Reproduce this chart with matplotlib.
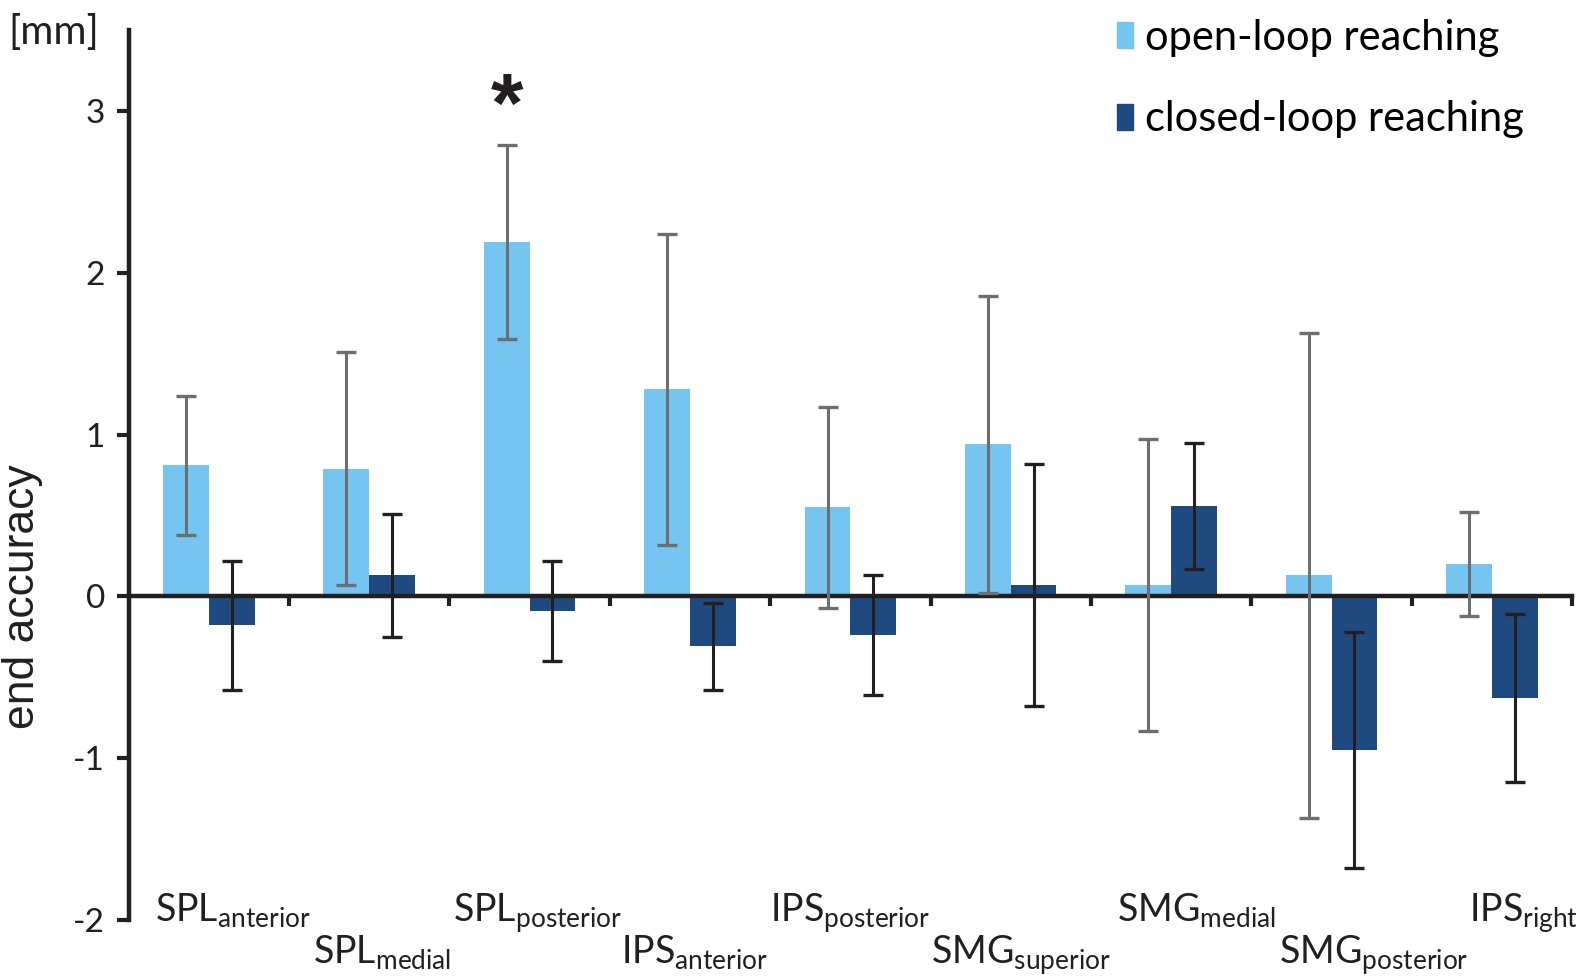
import matplotlib
matplotlib.use("Agg")
import matplotlib.pyplot as plt
import numpy as np
from matplotlib.patches import Patch

plt.rcParams["font.family"] = ["Lato", "DejaVu Sans"]
plt.rcParams["mathtext.fontset"] = "custom"
plt.rcParams["mathtext.rm"] = "Lato"
plt.rcParams["axes.unicode_minus"] = False

LIGHT = "#75C5F0"
DARK = "#1F4A7F"
GREY_ERR = "#6D6E71"
BLACK = "#231F20"

regions = ["SPL", "SPL", "SPL", "IPS", "IPS", "SMG", "SMG", "SMG", "IPS"]
subs = ["anterior", "medial", "posterior", "anterior", "posterior",
        "superior", "medial", "posterior", "right"]

open_loop = [0.81, 0.79, 2.19, 1.28, 0.55, 0.94, 0.07, 0.13, 0.20]
open_err = [0.43, 0.72, 0.60, 0.96, 0.62, 0.92, 0.90, 1.50, 0.32]
closed_loop = [-0.18, 0.13, -0.09, -0.31, -0.24, 0.07, 0.56, -0.95, -0.63]
closed_err = [0.40, 0.38, 0.31, 0.27, 0.37, 0.75, 0.39, 0.73, 0.52]
significant = [False, False, True, False, False, False, False, False, False]

# horizontal nudges of the staggered category labels (style only)
label_nudge = [0.15, 0.08, 0.05, 0.03, 0.0, 0.06, 0.16, 0.26, 0.20]

x = np.arange(len(regions))
w = 0.285

fig = plt.figure(figsize=(15.88, 9.8), dpi=100, facecolor="white")
ax = fig.add_axes([0.081, 0.0615, 0.909, 0.9075])

ax.bar(x - w / 2, open_loop, width=w, color=LIGHT, zorder=1)
ax.bar(x + w / 2, closed_loop, width=w, color=DARK, zorder=1)
ax.errorbar(x - w / 2, open_loop, yerr=open_err, fmt="none", ecolor=GREY_ERR,
            elinewidth=2.2, capsize=7.5, capthick=2.4, zorder=3)
ax.errorbar(x + w / 2, closed_loop, yerr=closed_err, fmt="none", ecolor=BLACK,
            elinewidth=2.2, capsize=7.5, capthick=2.4, zorder=3)

for i, sig in enumerate(significant):
    if sig:
        ax.text(x[i] - w / 2, open_loop[i] + open_err[i] + 0.22, "*",
                ha="center", va="center", fontsize=60, fontweight="bold",
                color=BLACK, family="Liberation Sans")

ax.set_xlim(-0.5, 8.5)
ax.set_ylim(-2, 3.5)
for s in ["top", "right"]:
    ax.spines[s].set_visible(False)
ax.spines["bottom"].set_position(("data", 0))
ax.spines["bottom"].set_linewidth(3.2)
ax.spines["left"].set_linewidth(3.2)
ax.spines["bottom"].set_color(BLACK)
ax.spines["left"].set_color(BLACK)
ax.spines["bottom"].set_zorder(2)

ax.set_yticks([-2, -1, 0, 1, 2, 3])
ax.set_xticks(x + 0.5)
ax.set_xticklabels([])
ax.tick_params(axis="x", length=7, width=3, direction="out", color=BLACK)
ax.tick_params(axis="y", length=9, width=3, direction="out", color=BLACK,
               labelsize=24, pad=8, labelcolor=BLACK)

ax.set_ylabel("end accuracy", fontsize=32, color=BLACK, family="Liberation Sans")
ax.yaxis.set_label_coords(-0.0596, 2 / 5.5)

fig.text(0.005, 0.967, "[mm]", fontsize=29, color=BLACK, va="center", ha="left")

for i in range(len(regions)):
    y = 0.059 if i % 2 == 0 else 0.017
    xd = ax.transData.transform((x[i] + label_nudge[i], 0))[0]
    xf = fig.transFigure.inverted().transform((xd, 0))[0]
    fig.text(xf, y, rf"{regions[i]}$_{{\mathrm{{{subs[i]}}}}}$", fontsize=27,
             ha="center", va="baseline", color=BLACK)

handles = [Patch(color=LIGHT), Patch(color=DARK)]
fig.legend(handles, ["open-loop reaching", "closed-loop reaching"],
           loc="upper left", bbox_to_anchor=(0.7037, 0.981), frameon=False,
           fontsize=30, handlelength=0.37, handleheight=0.58, handletextpad=0.3,
           labelspacing=1.05, borderpad=0, borderaxespad=0)

fig.savefig("out.png", dpi=100, facecolor="white")
